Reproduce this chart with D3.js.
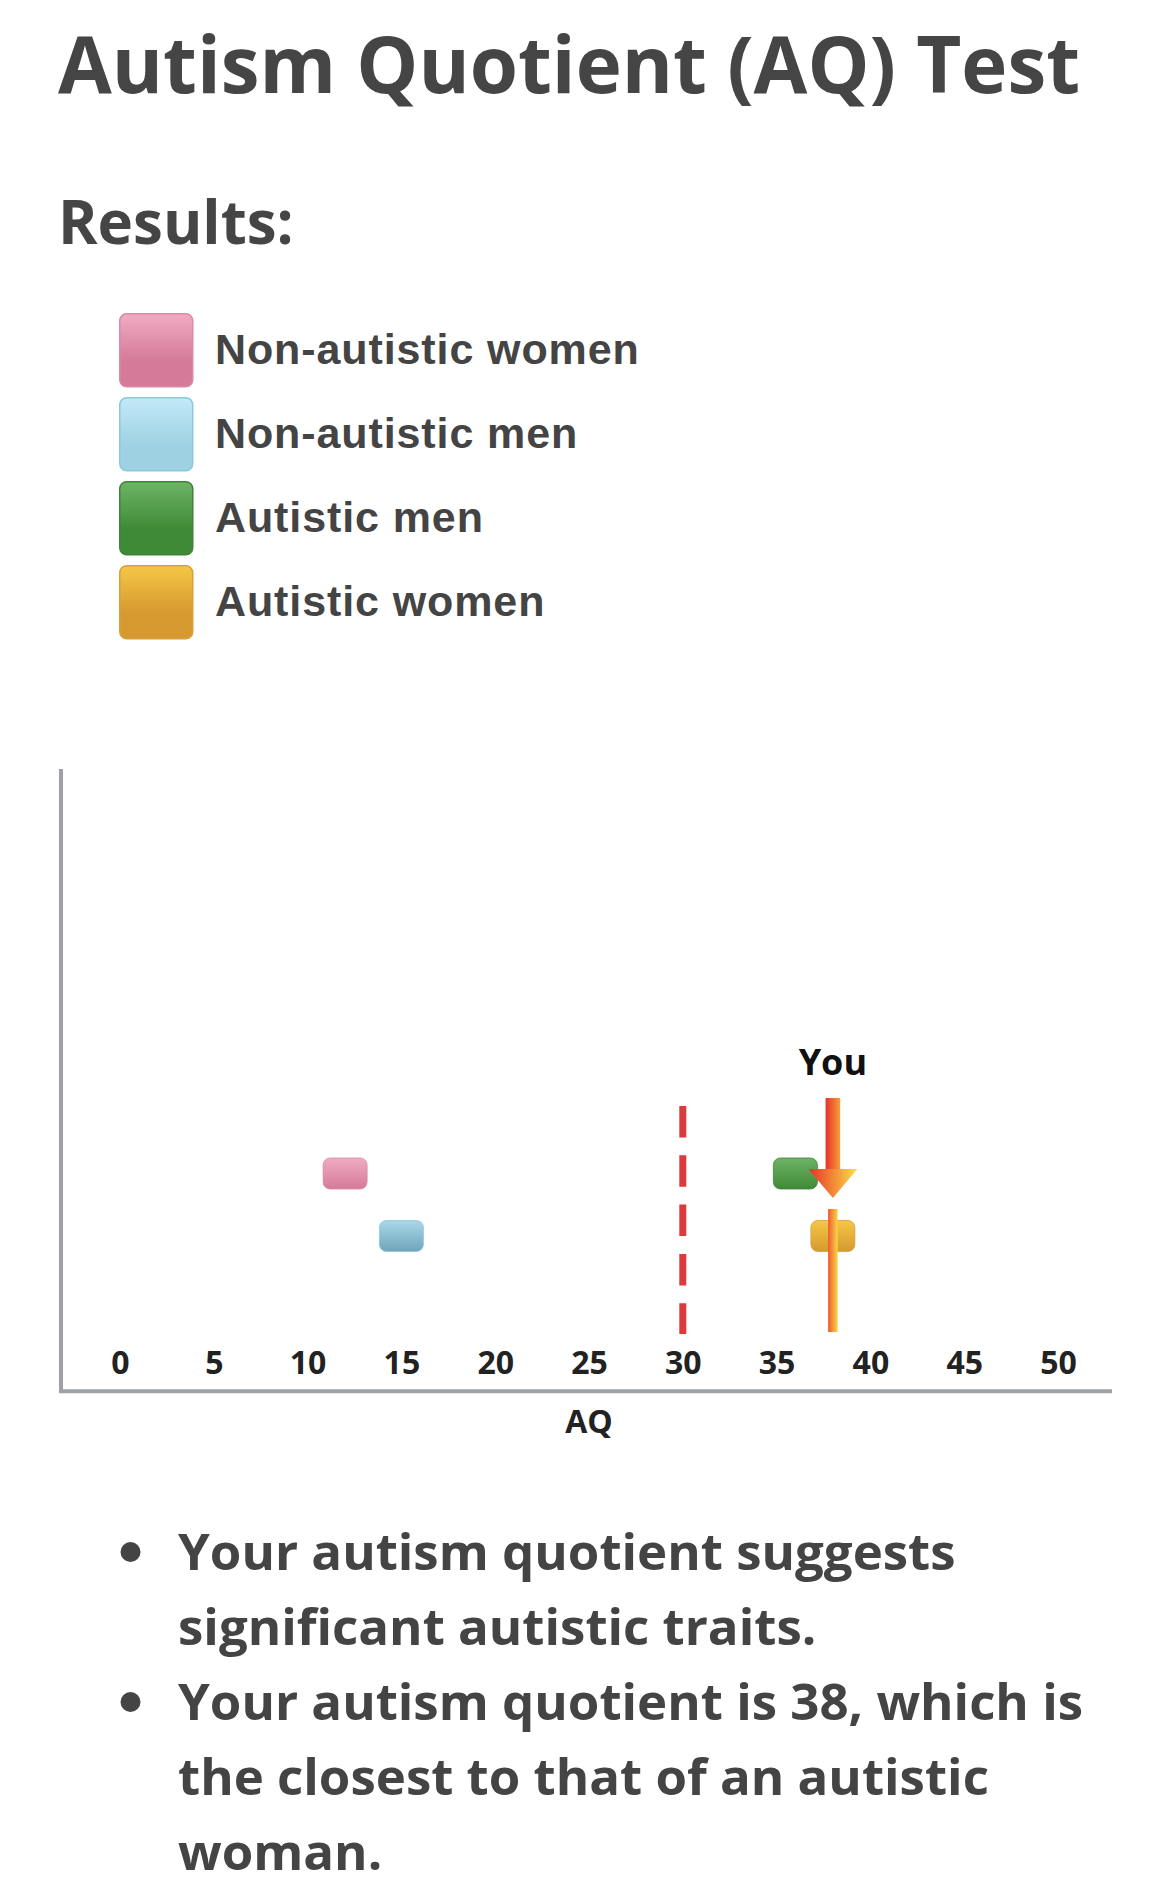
<!DOCTYPE html>
<html>
<head>
<meta charset="utf-8">
<script src="https://cdn.jsdelivr.net/npm/d3@7"></script>
<style>
  html, body { margin: 0; padding: 0; background: #fff; }
  svg { display: block; }
  .osb { font-family: "Open Sans", sans-serif; font-weight: 700; }
  .arb { font-family: "Liberation Sans", Arial, sans-serif; font-weight: 700; }
</style>
</head>
<body>
<div id="container"></div>
<script>
"use strict";

// legend / groups
var groups = ["Non-autistic women", "Non-autistic men", "Autistic men", "Autistic women"];
var groupScores = [12, 15, 36, 38];
var groupRows = [0, 1, 0, 1];
var colorTop = ["#f0abc3", "#c3e9f7", "#6db466", "#f4c745"];
var colorBottom = ["#d57a98", "#9ed2e2", "#3f8a37", "#d6992f"];
var markerTop = ["#f0abc3", "#a9d8e8", "#6db466", "#f4c745"];
var markerBottom = ["#d57a98", "#6fa4bc", "#3f8a37", "#d6992f"];
var borderCol = ["#d98aa4", "#8cc8dc", "#3f8436", "#d8a03a"];

var ticks = [0, 5, 10, 15, 20, 25, 30, 35, 40, 45, 50];
var threshold = 30;
var yourScore = 38;

var bullets = [
    ["Your autism quotient suggests", "significant autistic traits."],
    ["Your autism quotient is 38, which is", "the closest to that of an autistic", "woman."]
];

var width = 1170;
var height = 1899;

var svg = d3.select("#container").append("svg").attr("width", width).attr("height", height);
var defs = svg.append("defs");

// title
svg.append("text").attr("class", "osb").attr("x", 58).attr("y", 93)
    .attr("font-size", 78).attr("fill", "#454545").text("Autism Quotient (AQ) Test");
svg.append("text").attr("class", "osb").attr("x", 58).attr("y", 244)
    .attr("font-size", 60).attr("fill", "#454545").text("Results:");

// gradients for swatches
groups.forEach(function (g, i) {
    var lg = defs.append("linearGradient").attr("id", "leg" + i).attr("x1", 0).attr("y1", 0).attr("x2", 0).attr("y2", 1);
    lg.append("stop").attr("offset", "0%").attr("stop-color", colorTop[i]);
    lg.append("stop").attr("offset", "65%").attr("stop-color", colorBottom[i]);
    lg.append("stop").attr("offset", "100%").attr("stop-color", colorBottom[i]);
    var mg = defs.append("linearGradient").attr("id", "mk" + i).attr("x1", 0).attr("y1", 0).attr("x2", 0).attr("y2", 1);
    mg.append("stop").attr("offset", "0%").attr("stop-color", markerTop[i]);
    mg.append("stop").attr("offset", "100%").attr("stop-color", markerBottom[i]);
});

// legend
var legendY = d3.scalePoint().domain(groups).range([313, 565]);
var legend = svg.append("g").selectAll("g").data(groups).enter().append("g")
    .attr("transform", function (d) { return "translate(119," + legendY(d) + ")"; });
legend.append("rect").attr("x", 0.75).attr("y", 0.75).attr("width", 73).attr("height", 73)
    .attr("rx", 7).attr("fill", function (d, i) { return "url(#leg" + i + ")"; })
    .attr("stroke", function (d, i) { return borderCol[i]; }).attr("stroke-width", 1.5);
legend.append("text").attr("class", "arb").attr("x", 96).attr("y", 51)
    .attr("font-size", 43).attr("letter-spacing", 0.9).attr("fill", "#444").text(function (d) { return d; });

// chart
var x = d3.scaleLinear().domain([0, 50]).range([120, 1058]);
var rowY = d3.scalePoint().domain([0, 1]).range([1173.5, 1236]);

// axes lines
svg.append("line").attr("x1", 61).attr("x2", 61).attr("y1", 769).attr("y2", 1393)
    .attr("stroke", "#9ea1a5").attr("stroke-width", 4);
svg.append("line").attr("x1", 59).attr("x2", 1112).attr("y1", 1391.3).attr("y2", 1391.3)
    .attr("stroke", "#9ea1a5").attr("stroke-width", 4);

var axis = svg.append("g").attr("transform", "translate(0,1351)")
    .call(d3.axisBottom(x).tickValues(ticks).tickSize(0).tickPadding(0));
axis.select(".domain").remove();
axis.selectAll("text").attr("class", "osb").attr("font-size", 32).attr("fill", "#222")
    .attr("font-family", null);

svg.append("text").attr("class", "osb").attr("x", x(25)).attr("y", 1433)
    .attr("text-anchor", "middle").attr("font-size", 32).attr("fill", "#222").text("AQ");

// threshold
svg.append("line").attr("x1", x(threshold)).attr("x2", x(threshold))
    .attr("y1", 1106).attr("y2", 1334)
    .attr("stroke", "#dc3b3b").attr("stroke-width", 7)
    .attr("stroke-dasharray", "31.5 17.8");

// markers
svg.append("g").selectAll("rect").data(groups).enter().append("rect")
    .attr("x", function (d, i) { return x(groupScores[i]) - 22; })
    .attr("y", function (d, i) { return rowY(groupRows[i]) - 15.5; })
    .attr("width", 44).attr("height", 31).attr("rx", 7)
    .attr("fill", function (d, i) { return "url(#mk" + i + ")"; })
    .attr("stroke", function (d, i) { return borderCol[i]; }).attr("stroke-width", 0.8);

// your score arrow
var ax = x(yourScore);
var gShaft = defs.append("linearGradient").attr("id", "shaft");
gShaft.append("stop").attr("offset", "0%").attr("stop-color", "#e8302a");
gShaft.append("stop").attr("offset", "100%").attr("stop-color", "#f4a03a");
var gHead = defs.append("linearGradient").attr("id", "head");
gHead.append("stop").attr("offset", "0%").attr("stop-color", "#e8302a");
gHead.append("stop").attr("offset", "55%").attr("stop-color", "#f39038");
gHead.append("stop").attr("offset", "100%").attr("stop-color", "#fae44a");
var gLine = defs.append("linearGradient").attr("id", "vline");
gLine.append("stop").attr("offset", "0%").attr("stop-color", "#f05a2e");
gLine.append("stop").attr("offset", "100%").attr("stop-color", "#f9d747");

svg.append("rect").attr("x", ax - 4.8).attr("y", 1209).attr("width", 9.6).attr("height", 123)
    .attr("fill", "url(#vline)");
svg.append("rect").attr("x", ax - 7.3).attr("y", 1098).attr("width", 14.6).attr("height", 72)
    .attr("fill", "url(#shaft)");
svg.append("path").attr("d", "M" + (ax - 24.5) + ",1169L" + (ax + 24.5) + ",1169L" + ax + ",1198Z")
    .attr("fill", "url(#head)");
svg.append("text").attr("class", "osb").attr("x", ax).attr("y", 1075)
    .attr("text-anchor", "middle").attr("font-size", 36).attr("fill", "#111").text("You");

// bullet list
var lineY = 1570;
bullets.forEach(function (b) {
    svg.append("circle").attr("cx", 130.5).attr("cy", lineY - 18).attr("r", 10).attr("fill", "#444");
    b.forEach(function (t) {
        svg.append("text").attr("class", "osb").attr("x", 178).attr("y", lineY)
            .attr("font-size", 51).attr("fill", "#444").text(t);
        lineY += 75;
    });
});
</script>
</body>
</html>
